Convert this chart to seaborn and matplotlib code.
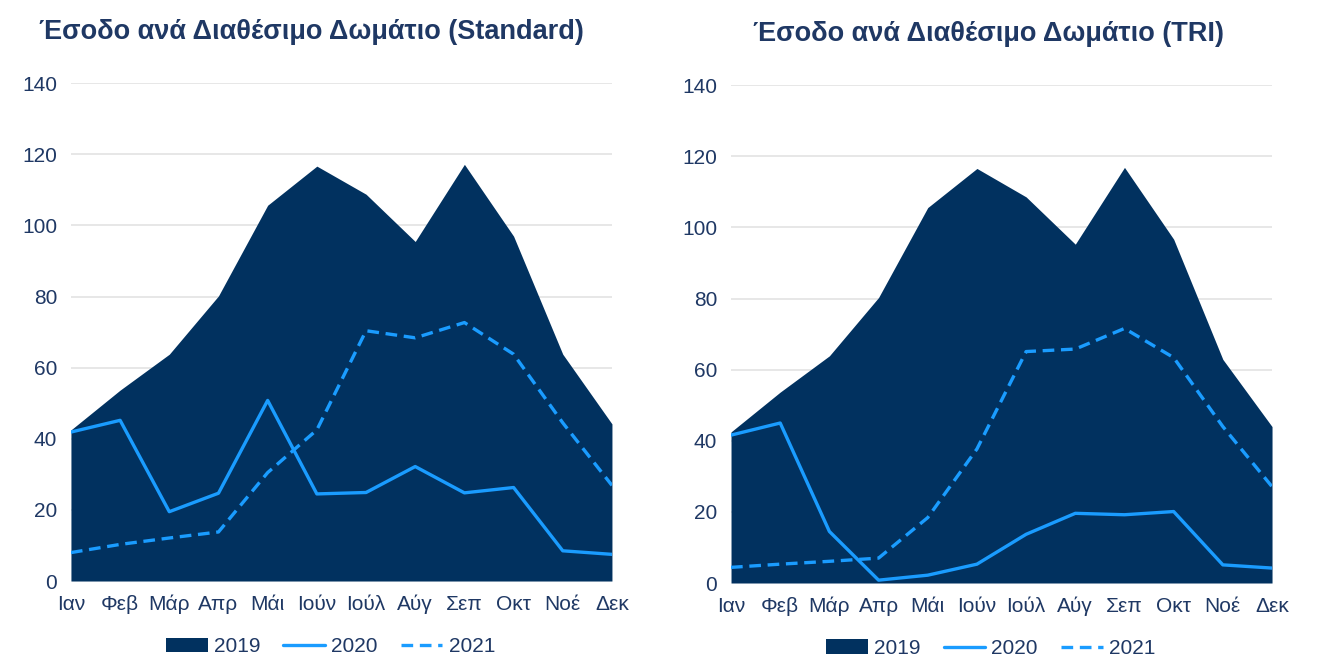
import numpy as np
import pandas as pd
import matplotlib.pyplot as plt
import seaborn as sns
from matplotlib.patches import Patch
from matplotlib.lines import Line2D

months = ["Ιαν", "Φεβ", "Μάρ", "Απρ", "Μάι", "Ιούν", "Ιούλ", "Αύγ", "Σεπ", "Οκτ", "Νοέ", "Δεκ"]

# Standard
std_2019 = [42.5, 53.7, 63.8, 80.2, 105.7, 116.7, 108.8, 95.5, 117.2, 97.0, 63.8, 44.2]
std_2020 = [41.9, 45.2, 19.5, 24.7, 50.8, 24.5, 24.9, 32.2, 24.8, 26.3, 8.5, 7.5]
std_2021 = [8.0, 10.3, 12.1, 13.8, 30.5, 42.5, 70.4, 68.4, 72.7, 63.8, 44.5, 26.9]

# TRI
tri_2019 = [42.5, 53.7, 63.9, 80.3, 105.6, 116.6, 108.6, 95.3, 116.9, 96.7, 62.9, 44.0]
tri_2020 = [41.6, 45.0, 14.5, 0.8, 2.2, 5.3, 13.7, 19.6, 19.2, 20.1, 5.1, 4.2]
tri_2021 = [4.4, 5.3, 6.1, 7.0, 18.4, 37.7, 65.1, 65.8, 71.6, 63.4, 44.0, 27.1]

titles = ["Έσοδο ανά Διαθέσιμο Δωμάτιο (Standard)", "Έσοδο ανά Διαθέσιμο Δωμάτιο (TRI)"]
title_x = [0.444, 0.475]

NAVY = "#01315f"
LIGHT = "#1a9cff"
TEXT = "#1f3864"
GRID = "#e3e3e3"
DASH = (0, (3.5, 2))

sns.set_theme(style="white")
plt.rcParams['font.family'] = ['Liberation Sans', 'DejaVu Sans']

fig = plt.figure(figsize=(13.26, 6.61), dpi=100)
axes = [fig.add_axes([0.0535, 0.121, 0.408, 0.753]),
        fig.add_axes([0.5513, 0.118, 0.408, 0.753])]

panels = [(std_2019, std_2020, std_2021), (tri_2019, tri_2020, tri_2021)]

for ax, title, tx, (y19, y20, y21) in zip(axes, titles, title_x, panels):
    df = pd.DataFrame({"x": np.arange(len(months)), "y2019": y19,
                       "y2020": y20, "y2021": y21})
    for v in range(20, 160, 20):
        ax.axhline(v, color=GRID, lw=1.2, zorder=0)
    ax.fill_between(df["x"], 0, df["y2019"], color=NAVY, lw=0, zorder=1)
    sns.lineplot(data=df, x="x", y="y2020", ax=ax, color=LIGHT, lw=2.4, zorder=3)
    sns.lineplot(data=df, x="x", y="y2021", ax=ax, color=LIGHT, lw=2.4,
                 linestyle=DASH, zorder=3)
    ax.set_xlim(0, 11)
    ax.set_ylim(0, 140)
    ax.set_yticks(range(0, 160, 20))
    ax.set_xticks(df["x"])
    ax.set_xticklabels(months)
    ax.set_xlabel("")
    ax.set_ylabel("")
    ax.tick_params(axis="both", length=0, labelsize=15, colors=TEXT)
    ax.tick_params(axis="y", pad=10)
    ax.tick_params(axis="x", pad=10)
    for s in ax.spines.values():
        s.set_visible(False)
    ax.grid(False)
    ax.set_title(title, fontsize=19.5, fontweight="bold", color=TEXT, pad=32,
                 x=tx)
    handles = [Patch(facecolor=NAVY, edgecolor="none"),
               Line2D([], [], color=LIGHT, lw=2.4),
               Line2D([], [], color=LIGHT, lw=2.4, linestyle=DASH)]
    leg = ax.legend(handles, ["2019", "2020", "2021"], loc="upper center",
                    bbox_to_anchor=(0.48, -0.075), ncol=3, frameon=False,
                    fontsize=15, handlelength=2.0, handletextpad=0.3,
                    columnspacing=1.1)
    for t in leg.get_texts():
        t.set_color(TEXT)

fig.savefig("out.png", dpi=100)
